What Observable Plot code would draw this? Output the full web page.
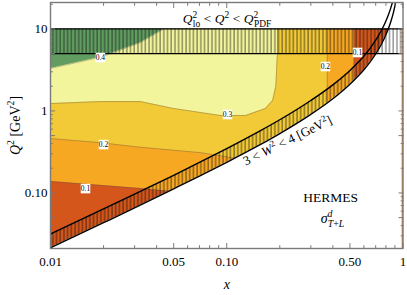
<!DOCTYPE html>
<html><head><meta charset="utf-8">
<script src="https://cdn.jsdelivr.net/npm/d3@7"></script>
<script src="https://cdn.jsdelivr.net/npm/@observablehq/plot@0.6"></script>
<style>html,body{margin:0;padding:0;background:#fff;} #chart svg{display:block;} #chart text{font-family:"Liberation Serif","Times New Roman",serif;}</style>
</head><body><div id="chart"></div>
<script>
// ---- axes ----
const xDomain = [0.01, 1];
const yDomain = [0.021, 21];
const xMajor = [0.01, 0.05, 0.1, 0.5, 1];
const xMajorLabels = ["0.01", "0.05", "0.10", "0.50", "1"];
const xMinor = [0.02,0.03,0.04,0.06,0.07,0.08,0.09,0.2,0.3,0.4,0.6,0.7,0.8,0.9];
const yMajor = [0.05, 0.1, 0.5, 1, 5, 10];
const yMajorLabels = ["0.05", "0.10", "0.50", "1", "5", "10"];
const yMinor = [0.03,0.04,0.06,0.07,0.08,0.09,0.2,0.3,0.4,0.6,0.7,0.8,0.9,2,3,4,6,7,8,9,20];

// ---- Q2 band ----
const Q2lo = 5, Q2pdf = 10;

// ---- W^2 band boundaries (x, Q2 at W2=3 and W2=4) ----
const wX  = [0.01, 0.02, 0.03, 0.05, 0.07, 0.1, 0.15, 0.2, 0.3, 0.4, 0.5, 0.6, 0.65, 0.7, 0.75, 0.8, 0.85, 0.88, 0.9, 0.92, 0.95, 0.97, 0.99];
const wQ3 = [0.0214, 0.0433, 0.0656, 0.112, 0.160, 0.236, 0.374, 0.53, 0.909, 1.41, 2.12, 3.18, 3.94, 4.95, 6.36, 8.48, 12.0, 15.5, 19.1, 24.4, 40.3, 68.5, 210];
const wQ4 = [0.0315, 0.0637, 0.0965, 0.164, 0.235, 0.347, 0.551, 0.78, 1.34, 2.08, 3.12, 4.68, 5.79, 7.28, 9.36, 12.5, 17.7, 22.9, 28.1, 35.9, 59.3, 101, 309];

// ---- contour boundaries of sigma (x, Q2); region below/right has smaller sigma ----
const contour04 = [[0.01,3.3],[0.0192,4.5],[0.0324,6.8],[0.044,10],[1,10]];
const contour03 = [[0.01,1.23],[0.0192,1.3],[0.0324,1.3],[0.05,1.07],[0.092,0.88],[0.128,0.88],[0.166,1.07],[0.182,1.34],[0.19,2.0],[0.192,3.4],[0.194,5],[0.194,10],[1,10]];
const contour02 = [[0.01,0.46],[0.0192,0.41],[0.0324,0.36],[0.071,0.31],[0.15,0.24],[0.36,0.2],[0.371,0.2],[0.372,10],[1,10]];
const contour01 = [[0.01,0.138],[0.0324,0.113],[0.1,0.09],[0.45,0.08],[0.527,0.08],[0.528,10],[1,10]];
const levelFills = ["#619d61", "#f3f59d", "#f2c936", "#f7a823", "#d4561a"];

// ---- contour labels ----
const labelX = [0.0192, 0.101, 0.02, 0.363, 0.0158, 0.552];
const labelQ2 = [4.48, 0.904, 0.389, 3.48, 0.113, 5.16];
const labelText = ["0.4", "0.3", "0.2", "0.2", "0.1", "0.1"];

// ---- annotations ----
const annX = [0.1003, 0.221, 0.388, 0.398];
const annQ2 = [13.2, 0.436, 0.0879, 0.0487];
const annKey = ["BANDTEXT", "WTEXT", "HERMES", "SIGMATEXT"];

const table = wX.map((x, i) => ({x, q3: wQ3[i], q4: wQ4[i]}));
const labels = labelX.map((x, i) => ({x, y: labelQ2[i], t: labelText[i]}));
const ann = annX.map((x, i) => ({x, y: annQ2[i], t: annKey[i]}));
const contours = [contour04, contour03, contour02, contour01];
const one = [0];
const serif = "Liberation Serif";
const axisGray = "#7a7a7a";

function tickAxes(xt, yt, size) {
  const o = {tickFormat: () => "", stroke: axisGray, label: null, strokeWidth: 1};
  return [
    Plot.axisX({...o, anchor: "bottom", ticks: xt, tickSize: -size}),
    Plot.axisX({...o, anchor: "top", ticks: xt, tickSize: -size}),
    Plot.axisY({...o, anchor: "left", ticks: yt, tickSize: -size}),
    Plot.axisY({...o, anchor: "right", ticks: yt, tickSize: -size})
  ];
}

const chart = Plot.plot({
  width: 407, height: 295,
  marginLeft: 50, marginRight: 4.5, marginTop: 2, marginBottom: 47,
  x: {type: "log", domain: xDomain},
  y: {type: "log", domain: yDomain},
  style: {fontFamily: serif, fontSize: "13px", background: "white", color: "black"},
  marks: [
    Plot.rect(one, {x1: () => xDomain[0], x2: () => xDomain[1], y1: () => yDomain[0], y2: () => Q2pdf, fill: levelFills[0]}),
    ...contours.map((c, i) => Plot.areaY(c, {x: d => d[0], y1: () => yDomain[0], y2: d => d[1], fill: levelFills[i + 1]})),
    ...contours.map(c => Plot.line(c, {x: d => d[0], y: d => d[1], stroke: "#555", strokeWidth: 0.5, strokeOpacity: 0.7})),
    Plot.areaY(table, {x: "x", y1: () => yDomain[0], y2: "q3", fill: "white", curve: "monotone-x", clip: true}),
    Plot.areaY(table, {x: "x", y1: "q3", y2: "q4", fill: "url(#vhatch)", curve: "monotone-x", clip: true}),
    Plot.rect(one, {x1: () => xDomain[0], x2: () => xDomain[1], y1: () => Q2pdf, y2: () => yDomain[1], fill: "white"}),
    Plot.rect(one, {x1: () => xDomain[0], x2: () => xDomain[1], y1: () => Q2lo, y2: () => Q2pdf, fill: "url(#vhatch)"}),
    Plot.line(table, {x: "x", y: "q3", stroke: "black", strokeWidth: 1.4, curve: "monotone-x", clip: true}),
    Plot.line(table, {x: "x", y: "q4", stroke: "black", strokeWidth: 1.4, curve: "monotone-x", clip: true}),
    Plot.ruleY([Q2lo, Q2pdf], {stroke: "black", strokeWidth: 1.3}),
    Plot.dot(labels, {x: "x", y: "y", symbol: "square", r: 5.4, fill: "white", stroke: "none"}),
    Plot.text(labels, {x: "x", y: "y", text: "t", fontSize: 7.5, fontFamily: serif}),
    Plot.text(ann, {x: "x", y: "y", text: "t", fontSize: 13.5, fontFamily: serif, rotate: d => d.t === "WTEXT" ? -26 : 0, lineAnchor: "middle"}),
    Plot.text(["YTITLE"], {frameAnchor: "left", dx: -35, rotate: -90, text: d => d, textAnchor: "middle", lineAnchor: "middle", fontSize: 14, fontFamily: serif}),
    Plot.text(["x"], {frameAnchor: "bottom", dy: 36, text: d => d, textAnchor: "middle", lineAnchor: "middle", fontSize: 14, fontStyle: "italic", fontFamily: serif}),
    Plot.frame({stroke: axisGray, strokeWidth: 1.4}),
    ...tickAxes(xMajor, yMajor, 5),
    ...tickAxes(xMinor, yMinor, 2.8),
    Plot.axisX({ticks: xMajor, tickSize: 0, tickPadding: 8, tickFormat: d => xMajorLabels[xMajor.indexOf(d)], fontSize: 13, fontFamily: serif, fontVariant: "normal", label: null}),
    Plot.axisY({ticks: yMajor, tickSize: 0, tickPadding: 3, tickFormat: d => yMajorLabels[yMajor.indexOf(d)], fontSize: 13, fontFamily: serif, fontVariant: "normal", label: null})
  ]
});

// hatch pattern
const svgNS = "http://www.w3.org/2000/svg";
const root = chart.tagName.toLowerCase() === "svg" ? chart : chart.querySelector("svg");
const defs = document.createElementNS(svgNS, "defs");
const pat = document.createElementNS(svgNS, "pattern");
pat.setAttribute("id", "vhatch");
pat.setAttribute("patternUnits", "userSpaceOnUse");
pat.setAttribute("width", "3.7");
pat.setAttribute("height", "10");
const ln = document.createElementNS(svgNS, "line");
ln.setAttribute("x1", "1"); ln.setAttribute("x2", "1");
ln.setAttribute("y1", "0"); ln.setAttribute("y2", "10");
ln.setAttribute("stroke", "#111"); ln.setAttribute("stroke-width", "0.7");
pat.appendChild(ln); defs.appendChild(pat);
root.insertBefore(defs, root.firstChild);

function rich(key, parts, base) {
  const el = Array.from(root.querySelectorAll("text")).find(t => t.textContent === key);
  if (!el) return;
  while (el.firstChild) el.removeChild(el.firstChild);
  let shift = 0;
  for (const p of parts) {
    const ts = document.createElementNS(svgNS, "tspan");
    const target = p.sup ? -0.4 * base : p.sub ? 0.27 * base : 0;
    const dy = target - shift; shift = target;
    if (dy) ts.setAttribute("dy", dy.toFixed(2));
    if (p.dx) ts.setAttribute("dx", p.dx);
    ts.setAttribute("font-size", ((p.sup || p.sub) ? 0.7 * base : base).toFixed(2));
    if (p.it) ts.setAttribute("font-style", "italic");
    ts.textContent = p.t;
    el.appendChild(ts);
  }
}
rich("BANDTEXT", [
  {t: "Q", it: 1}, {t: "2", sup: 1}, {t: "lo", sub: 1, dx: -4.4},
  {t: "<", dx: 3.5}, {t: "Q", it: 1, dx: 3.5}, {t: "2", sup: 1},
  {t: "<", dx: 3.5}, {t: "Q", it: 1, dx: 3.5}, {t: "2", sup: 1}, {t: "PDF", sub: 1, dx: -4.4}
], 13.5);
rich("WTEXT", [
  {t: "3 < "}, {t: "W", it: 1}, {t: "2", sup: 1}, {t: " < 4 [GeV"}, {t: "2", sup: 1}, {t: "]"}
], 13);
rich("HERMES", [{t: "HERMES"}], 13.5);
rich("SIGMATEXT", [
  {t: "σ", it: 1}, {t: "d", sup: 1, it: 1}, {t: "T", sub: 1, it: 1, dx: -4.7}, {t: "+", sub: 1}, {t: "L", sub: 1, it: 1}
], 14);
rich("YTITLE", [
  {t: "Q", it: 1}, {t: "2", sup: 1}, {t: " [GeV"}, {t: "2", sup: 1}, {t: "]"}
], 14);

document.getElementById("chart").appendChild(chart);
</script>
</body></html>
